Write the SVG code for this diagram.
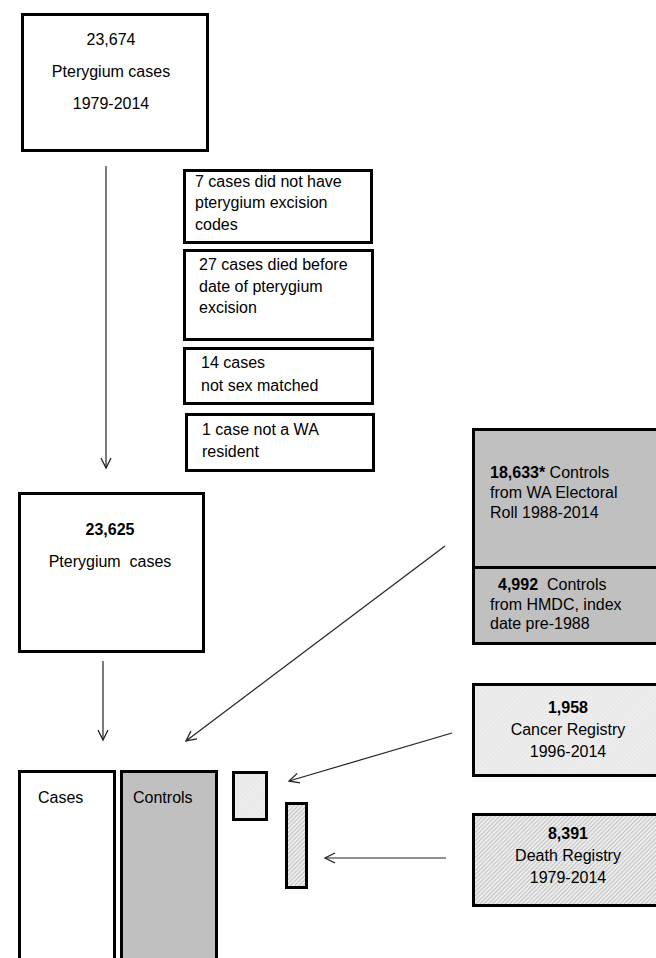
<svg xmlns="http://www.w3.org/2000/svg" width="656" height="958" viewBox="0 0 656 958">
<defs>
<style>
.box{fill:#fff;stroke:#000;stroke-width:3}
.grey{fill:#c0c0c0;stroke:#000;stroke-width:3}
.light{fill:url(#lightHatch);stroke:#000;stroke-width:3}
.hatch{fill:url(#hatch);stroke:#000;stroke-width:3}
text{font-family:"Liberation Sans",Arial,sans-serif;font-size:16px;fill:#000}
.c{text-anchor:middle}
.b{font-weight:bold}
.conn line{stroke:#222;stroke-width:1.2;fill:none}
</style>
<pattern id="hatch" patternUnits="userSpaceOnUse" width="3" height="3" patternTransform="rotate(45)">
<rect width="3" height="3" fill="#ececec"/>
<line x1="0" y1="0" x2="0" y2="3" stroke="#a8a8a8" stroke-width="1.2"/>
</pattern>
<pattern id="lightHatch" patternUnits="userSpaceOnUse" width="3" height="3" patternTransform="rotate(45)">
<rect width="3" height="3" fill="#ededed"/>
<line x1="0" y1="0" x2="0" y2="3" stroke="#e0e0e0" stroke-width="1"/>
</pattern>
<marker id="arr" markerUnits="userSpaceOnUse" markerWidth="14" markerHeight="14" refX="11" refY="6" orient="auto" viewBox="0 0 14 12">
<path d="M1,1 L11,6 L1,11" fill="none" stroke="#222" stroke-width="1.3"/>
</marker>
</defs>

<g id="n_total">
<rect class="box" x="22.5" y="14.5" width="185" height="136"/>
<text class="c" x="111" y="45">23,674</text>
<text class="c" x="111" y="77">Pterygium cases</text>
<text class="c" x="111" y="109">1979-2014</text>
</g>

<g id="n_excl1">
<rect class="box" x="184.5" y="170.5" width="187" height="72"/>
<text x="195" y="187">7 cases did not have</text>
<text x="195" y="208">pterygium excision</text>
<text x="195" y="230">codes</text>
</g>

<g id="n_excl2">
<rect class="box" x="184.5" y="250.5" width="188" height="89"/>
<text x="199" y="270">27 cases died before</text>
<text x="199" y="292">date of pterygium</text>
<text x="199" y="313">excision</text>
</g>

<g id="n_excl3">
<rect class="box" x="184.5" y="348.5" width="188" height="55"/>
<text x="201" y="368">14 cases</text>
<text x="201" y="391">not sex matched</text>
</g>

<g id="n_excl4">
<rect class="box" x="186.5" y="414.5" width="187" height="56"/>
<text x="202" y="435">1 case not a WA</text>
<text x="202" y="457">resident</text>
</g>

<g id="n_final">
<rect class="box" x="19.5" y="493.5" width="184" height="158"/>
<text class="c b" x="110" y="535">23,625</text>
<text class="c" x="110" y="567" xml:space="preserve">Pterygium  cases</text>
</g>

<g id="n_controls_src">
<rect class="grey" x="473.5" y="429.5" width="200" height="214"/>
<line x1="472" y1="567.5" x2="656" y2="567.5" stroke="#000" stroke-width="3"/>
<text x="490" y="478"><tspan class="b">18,633*</tspan> Controls</text>
<text x="490" y="498">from WA Electoral</text>
<text x="490" y="518">Roll 1988-2014</text>
<text x="498" y="590" xml:space="preserve"><tspan class="b">4,992</tspan>  Controls</text>
<text x="490" y="610">from HMDC, index</text>
<text x="490" y="629">date pre-1988</text>
</g>

<g id="n_cancer">
<rect class="light" x="473.5" y="684.5" width="200" height="91"/>
<text class="c b" x="568" y="713">1,958</text>
<text class="c" x="568" y="735">Cancer Registry</text>
<text class="c" x="568" y="757">1996-2014</text>
</g>

<g id="n_death">
<rect class="hatch" x="473.5" y="814.5" width="200" height="91"/>
<text class="c b" x="568" y="839">8,391</text>
<text class="c" x="568" y="861">Death Registry</text>
<text class="c" x="568" y="883">1979-2014</text>
</g>

<g id="n_cases">
<rect class="box" x="19.5" y="771.5" width="95" height="200"/>
<text x="38" y="803">Cases</text>
</g>

<g id="n_controls">
<rect class="grey" x="121.5" y="771.5" width="95" height="200"/>
<text x="133" y="803">Controls</text>
</g>

<g id="n_cancer_small">
<rect class="light" x="233.5" y="772.5" width="33" height="47"/>
</g>

<g id="n_death_small">
<rect class="hatch" x="286.5" y="803.5" width="20" height="84"/>
</g>

<g id="connectors" class="conn">
<line x1="106" y1="166" x2="106" y2="468" marker-end="url(#arr)"/>
<line x1="103" y1="661" x2="103" y2="740" marker-end="url(#arr)"/>
<line x1="445" y1="546" x2="186" y2="741" marker-end="url(#arr)"/>
<line x1="452" y1="733" x2="289" y2="781" marker-end="url(#arr)"/>
<line x1="446" y1="858" x2="325" y2="858" marker-end="url(#arr)"/>
</g>
</svg>
